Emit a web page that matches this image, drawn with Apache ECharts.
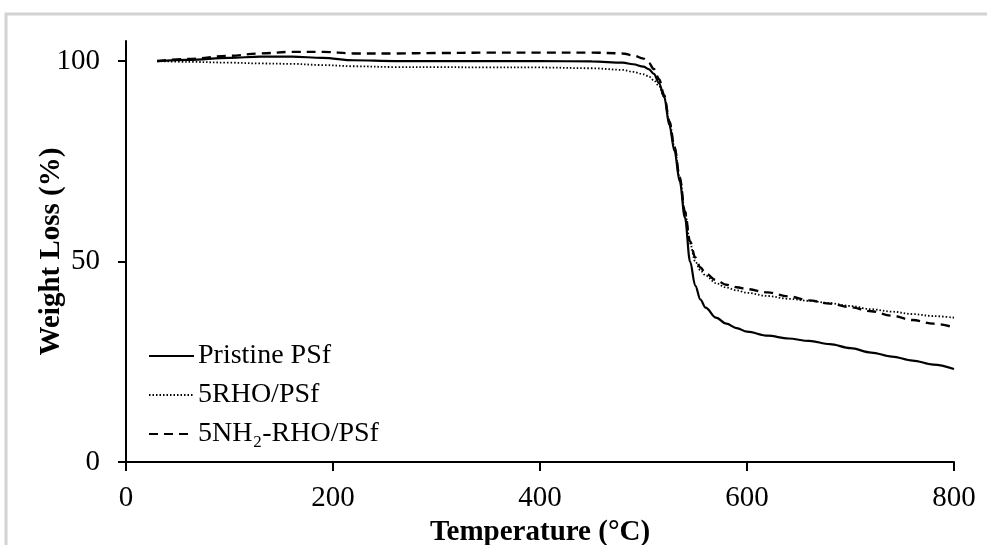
<!DOCTYPE html>
<html>
<head>
<meta charset="utf-8">
<script src="https://cdn.jsdelivr.net/npm/echarts@6/dist/echarts.min.js"></script>
<style>
  html, body { margin: 0; padding: 0; background: #fff; }
  #chart { width: 987px; height: 545px; }
</style>
</head>
<body>
<div id="chart"></div>
<script>
// temperatures (°C) sampled along the TGA curves
const temperature = [30, 60, 100, 130, 160, 190, 220, 260, 300, 350, 400, 450, 480, 490, 500, 505, 510, 515, 520, 525, 530, 535, 540, 545, 550, 555, 560, 570, 580, 590, 600, 620, 640, 660, 680, 700, 720, 740, 760, 780, 800]

// weight (%)
const pristine = [100, 100.3, 100.8, 101.1, 101.1, 100.8, 100.2, 100, 100, 100, 100, 99.9, 99.6, 99.2, 98.6, 98, 96.8, 94.5, 91, 84, 77.5, 70, 61, 50, 44, 40.5, 38.5, 36, 34.5, 33.4, 32.5, 31.5, 30.8, 30.2, 29.4, 28.4, 27.3, 26.3, 25.3, 24.3, 23.2]
const rho = [100, 99.8, 99.6, 99.4, 99.3, 99.0, 98.7, 98.5, 98.5, 98.4, 98.4, 98.2, 97.8, 97.3, 96.7, 96.2, 95.2, 93.8, 91, 85, 78.5, 71, 62.5, 54.5, 50, 47.8, 46.5, 44.6, 43.5, 42.8, 42.2, 41.4, 40.7, 40.2, 39.6, 38.9, 38.1, 37.5, 36.9, 36.4, 36.0]
const nh2Rho = [100, 100.5, 101.3, 101.9, 102.3, 102.3, 101.9, 101.9, 102, 102.1, 102.1, 102.1, 101.9, 101.4, 100.6, 99.6, 98, 95.5, 91.5, 85, 78.5, 71, 62.5, 55, 51, 48.5, 47, 45.4, 44.2, 43.6, 43.1, 42.3, 41.3, 40.3, 39.5, 38.6, 37.6, 36.5, 35.4, 34.5, 33.6]

const seriesNames = ['Pristine PSf', '5RHO/PSf', '5NH₂-RHO/PSf']
const yTicks = [0, 50, 100]

const FONT = '"Liberation Serif", "Times New Roman", serif'

const pairs = (vals) => temperature.map((t, i) => [t, vals[i]])

const chart = echarts.init(document.getElementById('chart'))

const baseSeries = (name, vals, lineStyle) => ({
  name: name,
  type: 'line',
  data: pairs(vals),
  showSymbol: false,
  symbol: 'none',
  smooth: 0.35,
  smoothMonotone: 'x',
  lineStyle: lineStyle,
  itemStyle: { color: '#000' },
  emphasis: { disabled: true }
})

const option = {
  animation: false,
  backgroundColor: '#fff',
  graphic: [{
    type: 'rect',
    shape: { x: 6, y: 14, width: 1100, height: 700 },
    style: { fill: 'none', stroke: '#d2d2d2', lineWidth: 3 },
    silent: true
  }],
  grid: { left: 126, right: 33, top: 41, bottom: 83, outerBoundsMode: 'none' },
  legend: {
    orient: 'vertical',
    left: 143,
    top: 337,
    itemWidth: 45,
    itemHeight: 12,
    itemGap: 11,
    itemStyle: { opacity: 0 },
    textStyle: { fontFamily: FONT, fontSize: 28, color: '#000', padding: [0, 0, 0, -1] },
    data: seriesNames
  },
  xAxis: {
    type: 'value',
    min: 0,
    max: 800,
    interval: 200,
    name: 'Temperature (°C)',
    nameLocation: 'middle',
    nameGap: 56,
    nameMoveOverlap: false,
    nameTextStyle: { fontFamily: FONT, fontSize: 29, fontWeight: 'bold', color: '#000' },
    axisLine: { lineStyle: { color: '#000', width: 2 } },
    axisTick: { show: true, length: 9, lineStyle: { color: '#000', width: 2 } },
    axisLabel: { fontFamily: FONT, fontSize: 29, color: '#000', margin: 22 },
    splitLine: { show: false }
  },
  yAxis: {
    type: 'value',
    min: 0,
    max: 105,
    name: 'Weight Loss (%)',
    nameLocation: 'middle',
    nameGap: 60,
    nameMoveOverlap: false,
    nameTextStyle: { fontFamily: FONT, fontSize: 29, fontWeight: 'bold', color: '#000' },
    axisLine: { show: true, lineStyle: { color: '#000', width: 2 } },
    axisTick: { show: true, length: 8, customValues: yTicks, lineStyle: { color: '#000', width: 2 } },
    axisLabel: { fontFamily: FONT, fontSize: 29, color: '#000', margin: 26, customValues: yTicks },
    splitLine: { show: false }
  },
  series: [
    baseSeries(seriesNames[0], pristine, { color: '#000', width: 2.2, type: 'solid' }),
    baseSeries(seriesNames[1], rho, { color: '#000', width: 1.8, type: [1.5, 2] }),
    baseSeries(seriesNames[2], nh2Rho, { color: '#000', width: 2.4, type: [9, 6] })
  ]
}

chart.setOption(option)
</script>
</body>
</html>
